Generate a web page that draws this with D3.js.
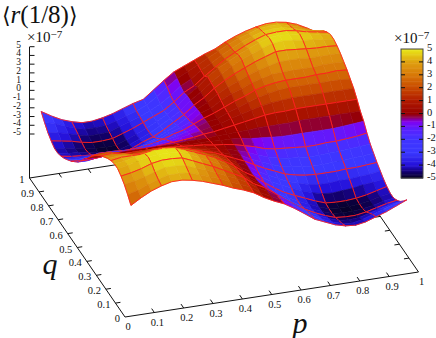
<!DOCTYPE html>
<html>
<head>
<meta charset="utf-8">
<script src="https://cdn.jsdelivr.net/npm/d3@7"></script>
<style>
  body { margin: 0; background: #fff; }
</style>
</head>
<body>
<script>
// grid positions of the surface samples
var pGrid = [0.03,0.065,0.1,0.134,0.169,0.204,0.239,0.274,0.308,0.343,0.378,0.413,0.448,0.482,0.517,0.552,0.587,0.622,0.656,0.691,0.726,0.761,0.796,0.83,0.865,0.9,0.935,0.97];
var qGrid = [0.03,0.065,0.1,0.134,0.169,0.204,0.239,0.274,0.308,0.343,0.378,0.413,0.448,0.482,0.517,0.552,0.587,0.622,0.656,0.691,0.726,0.761,0.796,0.83,0.865,0.9,0.935,0.97];

// values, in units of 1e-7, one row per q
var zGrid = [
[2.1,2.8,3.4,3.8,4.1,4.1,3.9,3.6,3.2,2.8,2.3,1.9,1.4,.7,.1,-.4,-1.1,-1.9,-2.7,-3.2,-3.7,-4,-4.1,-3.9,-3.5,-3.1,-2.6,-2.1],
[2.8,3.1,3.6,4,4.3,4.3,4.2,3.8,3.4,3,2.5,2,1.5,.7,.1,-.5,-1.2,-2,-2.8,-3.4,-3.9,-4.3,-4.4,-4.2,-3.8,-3.4,-3,-2.8],
[3.4,3.6,3.9,4.3,4.6,4.6,4.5,4,3.6,3.1,2.6,2.1,1.5,.7,.1,-.6,-1.4,-2.2,-3,-3.6,-4.1,-4.5,-4.6,-4.5,-4.2,-3.9,-3.6,-3.4],
[3.8,4,4.3,4.7,4.9,4.9,4.8,4.3,3.8,3.3,2.7,2.1,1.5,.6,0,-.8,-1.7,-2.5,-3.2,-3.8,-4.3,-4.7,-4.8,-4.8,-4.6,-4.3,-4,-3.8],
[4.1,4.3,4.6,4.9,5,5,4.9,4.5,3.9,3.4,2.8,2.2,1.4,.5,-.2,-1.1,-2,-2.7,-3.4,-3.9,-4.4,-4.8,-4.9,-4.9,-4.8,-4.6,-4.3,-4.1],
[4.1,4.2,4.5,4.7,4.9,4.9,4.8,4.3,3.8,3.4,2.8,2.1,1.3,.4,-.4,-1.4,-2.2,-2.8,-3.4,-3.9,-4.4,-4.8,-4.9,-4.9,-4.8,-4.6,-4.3,-4.1],
[3.9,4.1,4.1,4.1,4.3,4.4,4.3,3.9,3.5,3,2.5,1.9,1.2,.3,-.4,-1.3,-2.1,-2.8,-3.3,-3.8,-4.3,-4.7,-4.8,-4.8,-4.7,-4.5,-4.2,-3.9],
[3.6,3.7,3.6,3.4,3.6,3.7,3.7,3.4,3.1,2.7,2.2,1.7,1.1,.3,-.4,-1.2,-1.9,-2.5,-3,-3.5,-3.9,-4.2,-4.3,-4.2,-4.1,-3.9,-3.8,-3.6],
[3.2,3.3,3.2,2.9,3,3.1,3.1,2.9,2.6,2.3,1.8,1.5,.9,.2,-.3,-1.1,-1.7,-2.3,-2.8,-3.2,-3.5,-3.7,-3.7,-3.6,-3.6,-3.5,-3.4,-3.2],
[2.8,2.9,2.7,2.4,2.4,2.5,2.5,2.4,2.2,1.9,1.5,1.2,.7,.2,-.3,-.9,-1.5,-2,-2.5,-2.8,-3,-3.1,-3.1,-3.1,-3,-3,-2.9,-2.8],
[2.3,2.4,2.2,1.8,1.9,2,2,1.8,1.6,1.4,1.2,.9,.5,.1,-.2,-.8,-1.3,-1.8,-2.2,-2.4,-2.6,-2.7,-2.7,-2.6,-2.6,-2.5,-2.4,-2.3],
[1.8,1.8,1.6,1.3,1.4,1.4,1.4,1.3,1.2,1,.8,.6,.4,.1,-.2,-.6,-1.1,-1.5,-1.8,-2,-2.1,-2.2,-2.2,-2.1,-2.1,-2,-1.9,-1.8],
[1.1,1.1,1,.8,.8,.8,.8,.8,.7,.6,.5,.4,.2,.1,-.1,-.4,-.7,-1.1,-1.3,-1.4,-1.5,-1.6,-1.6,-1.5,-1.5,-1.4,-1.3,-1.1],
[.3,.3,.3,.2,.2,.2,.2,.2,.2,.2,.1,.1,.1,0,0,-.1,-.3,-.4,-.5,-.6,-.6,-.6,-.6,-.6,-.6,-.5,-.4,-.3],
[-.3,-.3,-.3,-.2,-.2,-.2,-.2,-.2,-.2,-.2,-.1,-.1,-.1,0,0,.1,.1,.2,.2,.2,.2,.3,.3,.3,.3,.3,.3,.3],
[-1.1,-1.1,-1,-.8,-.8,-.8,-.8,-.8,-.7,-.6,-.5,-.4,-.2,-.1,.1,.3,.5,.7,.9,1,1,1.1,1.1,1.1,1.1,1.1,1.1,1.1],
[-1.8,-1.8,-1.6,-1.3,-1.4,-1.4,-1.4,-1.3,-1.2,-1,-.8,-.6,-.4,-.1,.1,.5,.8,1.1,1.4,1.6,1.7,1.8,1.8,1.8,1.8,1.8,1.8,1.8],
[-2.3,-2.4,-2.2,-1.8,-1.9,-2,-2,-1.8,-1.6,-1.4,-1.2,-.9,-.5,-.1,.1,.6,1,1.4,1.8,2.1,2.3,2.4,2.4,2.4,2.4,2.4,2.4,2.3],
[-2.8,-2.9,-2.7,-2.4,-2.4,-2.5,-2.5,-2.4,-2.2,-1.9,-1.5,-1.2,-.7,-.2,.2,.7,1.2,1.6,2.1,2.4,2.6,2.7,2.7,2.7,2.8,2.8,2.9,2.8],
[-3.2,-3.3,-3.2,-3,-3.1,-3.2,-3.2,-3,-2.7,-2.4,-1.9,-1.5,-1,-.2,.2,.9,1.5,1.9,2.4,2.7,3,3.1,3.1,3.1,3.1,3.2,3.2,3.2],
[-3.6,-3.7,-3.7,-3.7,-3.8,-3.9,-3.9,-3.7,-3.3,-2.9,-2.3,-1.8,-1.1,-.3,.3,1.1,1.7,2.2,2.7,3.1,3.4,3.7,3.7,3.7,3.6,3.6,3.6,3.6],
[-3.9,-4.1,-4.2,-4.3,-4.5,-4.6,-4.6,-4.2,-3.7,-3.3,-2.7,-2,-1.3,-.4,.3,1.2,1.9,2.5,3,3.5,3.9,4.3,4.3,4.2,4.1,4,4,3.9],
[-4.1,-4.3,-4.4,-4.6,-4.8,-4.9,-4.8,-4.4,-3.9,-3.4,-2.8,-2.1,-1.4,-.4,.4,1.3,2.1,2.8,3.4,3.8,4.3,4.7,4.8,4.7,4.5,4.4,4.2,4.1],
[-4.1,-4.3,-4.5,-4.7,-4.8,-4.9,-4.8,-4.4,-3.9,-3.4,-2.8,-2.2,-1.4,-.4,.4,1.4,2.2,2.8,3.4,3.9,4.4,4.8,4.9,4.8,4.7,4.5,4.3,4.1],
[-3.8,-4,-4.2,-4.5,-4.7,-4.7,-4.6,-4.2,-3.8,-3.3,-2.8,-2.3,-1.5,-.6,0,.9,1.7,2.5,3.1,3.7,4.2,4.6,4.7,4.7,4.5,4.2,4,3.8],
[-3.4,-3.6,-3.9,-4.2,-4.5,-4.5,-4.4,-4,-3.6,-3.2,-2.7,-2.1,-1.3,-.4,.2,1,1.7,2.4,3,3.6,4,4.4,4.5,4.5,4.2,3.9,3.6,3.4],
[-2.8,-3.1,-3.6,-4,-4.3,-4.3,-4.2,-3.9,-3.5,-3.1,-2.6,-1.8,-.9,-.1,.5,1.1,1.7,2.3,2.9,3.4,3.8,4.2,4.3,4.3,4,3.6,3.1,2.8],
[-2.1,-2.8,-3.4,-3.8,-4.1,-4.1,-3.9,-3.6,-3.2,-2.8,-2.5,-1.6,-.7,.1,.6,1.1,1.6,2,2.6,3.1,3.5,3.8,4,4,3.8,3.4,2.8,2.1]
];

var axisTicks = [0,0.1,0.2,0.3,0.4,0.5,0.6,0.7,0.8,0.9,1];
var zTicks = [5,4,3,2,1,0,-1,-2,-3,-4,-5];
var colorStops = [-5,-4.5,-4,-3,-2,-1.2,-0.6,-0.25,0,1,2,3,4,5];
var colorValues = ["#04001a","#140070","#2410d8","#3a38ff","#4034ff","#5a20ff","#8200f0","#8e0050","#960000","#b01a00","#c84800","#d87808","#dfa010","#e8e818"];

var width = 436, height = 338;
var serif = "'Liberation Serif'";
var svg = d3.select("body").append("svg")
    .attr("width", width)
    .attr("height", height)
    .style("font-family", serif);

// the box is a flat projection: each data axis adds its own screen offset
var xFromP = d3.scaleLinear().domain([0, 1]).range([0, 293.5]);
var xFromQ = d3.scaleLinear().domain([0, 1]).range([0, -95.5]);
var yFromP = d3.scaleLinear().domain([0, 1]).range([0, -45]);
var yFromQ = d3.scaleLinear().domain([0, 1]).range([0, -139]);
var zHeight = d3.scaleLinear().domain([-5, 5]).range([43.7, -43.7]);
var originX = 125, originY = 317, zLift = -87.7;

function sx(p, q) { return originX + xFromP(p) + xFromQ(q); }
function sy(p, q) { return originY + yFromP(p) + yFromQ(q); }
function line(g, x1, y1, x2, y2, w) {
  g.append("line")
    .attr("x1", x1).attr("y1", y1).attr("x2", x2).attr("y2", y2)
    .attr("stroke", "#111").attr("stroke-width", w || 1);
}

// base box, drawn first so that the surface hides it
var box = svg.append("g");
line(box, sx(0,0), sy(0,0), sx(1,0), sy(1,0));
line(box, sx(0,0), sy(0,0), sx(0,1), sy(0,1));
line(box, sx(0,1), sy(0,1), sx(1,1), sy(1,1));
line(box, sx(1,0), sy(1,0), sx(1,1), sy(1,1));
line(box, sx(0,1), sy(0,1), sx(0,1), 47);

var tickP = 0.028, tickQ = 0.017;
axisTicks.forEach(function(t) {
  if (t > 0 && t < 1) {
    line(box, sx(t,0), sy(t,0), sx(t,tickP), sy(t,tickP));
    line(box, sx(t,1), sy(t,1), sx(t,1-tickP), sy(t,1-tickP));
    line(box, sx(0,t), sy(0,t), sx(tickQ,t), sy(tickQ,t));
    line(box, sx(1,t), sy(1,t), sx(1-tickQ,t), sy(1-tickQ,t));
  }
  box.append("text")
    .attr("x", sx(t,0) + 3).attr("y", sy(t,0) + 13)
    .attr("text-anchor", "middle")
    .attr("fill", "#111")
    .style("font-size", "10.5px")
    .text(t);
  box.append("text")
    .attr("x", sx(0,t) - 5).attr("y", sy(0,t) + 5)
    .attr("text-anchor", "end")
    .attr("fill", "#111")
    .style("font-size", "10.5px")
    .text(t);
});

var zY = d3.scaleLinear().domain([-5, 5]).range([134, 46.7]);
zTicks.forEach(function(t) {
  line(box, sx(0,1), zY(t), sx(0,1) + 5, zY(t));
  box.append("text")
    .attr("x", 21).attr("y", zY(t) + 1)
    .attr("text-anchor", "end")
    .attr("fill", "#111")
    .style("font-size", "9.5px")
    .text(t);
});

// surface facets, painted from the back of the box to the front
var facets = [];
for (var j = 0; j < qGrid.length - 1; j++) {
  for (var i = 0; i < pGrid.length - 1; i++) {
    facets.push({
      i: i, j: j,
      depth: -yFromP(pGrid[i]) - yFromQ(qGrid[j]),
      z: (zGrid[j][i] + zGrid[j][i+1] + zGrid[j+1][i] + zGrid[j+1][i+1]) / 4
    });
  }
}
facets.sort(function(a, b) { return d3.descending(a.depth, b.depth); });

var color = d3.scaleLinear().domain(colorStops).range(colorValues).clamp(true);

function corner(i, j) {
  return [sx(pGrid[i], qGrid[j]), sy(pGrid[i], qGrid[j]) + zLift + zHeight(zGrid[j][i])];
}
var pathOf = d3.line();
var meshStep = 3;

var surface = svg.append("g");
facets.forEach(function(f) {
  var a = corner(f.i, f.j), b = corner(f.i + 1, f.j),
      c = corner(f.i + 1, f.j + 1), d = corner(f.i, f.j + 1);
  surface.append("path")
    .attr("d", pathOf([a, b, c, d]) + "Z")
    .attr("fill", color(f.z))
    .attr("stroke", color(f.z))
    .attr("stroke-width", 0.6);
  var edges = [];
  if (f.j % meshStep == 0) edges.push([a, b]);
  if ((f.j + 1) % meshStep == 0) edges.push([d, c]);
  if (f.i % meshStep == 0) edges.push([a, d]);
  if ((f.i + 1) % meshStep == 0) edges.push([b, c]);
  edges.forEach(function(e) {
    surface.append("path")
      .attr("d", pathOf(e))
      .attr("fill", "none")
      .attr("stroke", "#ff2020")
      .attr("stroke-width", 0.9);
  });
});

// colour bar
var barX = 401, barW = 22;
var barY = d3.scaleLinear().domain([-5, 5]).range([178, 49]);
var bar = svg.append("g");
d3.range(-5, 5, 0.1).forEach(function(v) {
  bar.append("rect")
    .attr("x", barX).attr("width", barW)
    .attr("y", barY(v + 0.1)).attr("height", barY(v) - barY(v + 0.1) + 0.5)
    .attr("fill", color(v + 0.05));
});
bar.append("rect")
  .attr("x", barX).attr("y", barY(5))
  .attr("width", barW).attr("height", barY(-5) - barY(5))
  .attr("fill", "none").attr("stroke", "#444").attr("stroke-width", 1);
zTicks.forEach(function(t) {
  if (t != 5 && t != -5) {
    line(bar, barX, barY(t), barX + 4, barY(t));
    line(bar, barX + barW - 4, barY(t), barX + barW, barY(t));
  }
  bar.append("text")
    .attr("x", 427).attr("y", barY(t) + 2)
    .attr("fill", "#111")
    .style("font-size", "10.5px")
    .text(t);
});

// exponents and labels
function exponent(x, y) {
  var t = svg.append("text")
    .attr("x", x).attr("y", y)
    .attr("fill", "#111")
    .style("font-size", "15px");
  t.append("tspan").text("×10");
  t.append("tspan").attr("dy", -4).style("font-size", "11px").text("−7");
}
exponent(27, 42);
exponent(394, 43);

var title = svg.append("text")
    .attr("x", 2).attr("y", 22.5)
    .attr("fill", "#111")
    .style("font-size", "25px");
title.append("tspan").style("font-family", "'DejaVu Serif'").style("font-size", "22px").text("⟨");
title.append("tspan").style("font-style", "italic").text("r");
title.append("tspan").text("(1/8)");
title.append("tspan").style("font-family", "'DejaVu Serif'").style("font-size", "22px").text("⟩");

svg.append("text").attr("x", 50).attr("y", 274)
    .attr("text-anchor", "middle")
    .attr("fill", "#111")
    .style("font-size", "30px").style("font-style", "italic").text("q");
svg.append("text").attr("x", 300).attr("y", 333)
    .attr("text-anchor", "middle")
    .attr("fill", "#111")
    .style("font-size", "30px").style("font-style", "italic").text("p");
</script>
</body>
</html>
